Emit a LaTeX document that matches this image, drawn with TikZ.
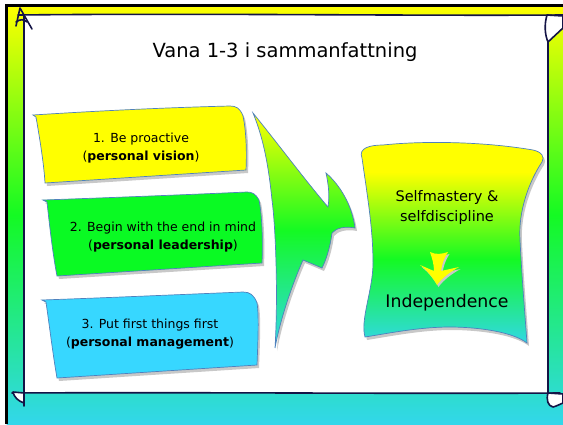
\documentclass[tikz,border=0pt]{standalone}
\usepackage{fontspec}
\setmainfont{DejaVu Sans}
\usetikzlibrary{calc}
\definecolor{bgyellow}{RGB}{255,255,0}
\definecolor{bggreen}{RGB}{20,250,35}
\definecolor{bgcyan}{RGB}{50,215,235}
\definecolor{frameline}{RGB}{20,20,70}
\definecolor{boxline}{RGB}{79,129,189}
\definecolor{boxyellow}{RGB}{255,255,0}
\definecolor{boxgreen}{RGB}{10,250,35}
\definecolor{boxblue}{RGB}{55,215,255}
\definecolor{shadowgray}{RGB}{200,200,200}
\tikzset{
  frame/.style={draw=frameline,line width=1.6pt,line cap=round,line join=round},
  curl/.style={frame,fill=white},
  habitbox/.style={draw=boxline,line width=0.7pt},
  shadowpath/.style={fill=shadowgray,draw=none},
  boxtext/.style={align=center,font=\fontsize{12.5}{18}\selectfont},
  tricolor/.style={top color=bgyellow,bottom color=bgcyan,middle color=bggreen},
}
\begin{document}
\begin{tikzpicture}[x=1pt,y=-1pt]
\useasboundingbox (0,0) rectangle (563,424);
\fill[white] (0,0) rectangle (563,424);
% slide background
\shade[tricolor] (6.5,5.5) rectangle (563,424);
\draw[line width=3pt] (6.5,424) -- (6.5,5.5) -- (563,5.5);
% scroll panel
\fill[white] (24,15) rectangle (548,393);
\draw[frame] (24,406) -- (24,15);
\draw[frame] (18,15) .. controls (200,13) and (400,16) .. (563,15);
\draw[frame] (548,15) -- (548,393);
\draw[frame] (12,393) .. controls (200,392) and (400,394) .. (560,393);
% corner curls
\draw[frame] (16,26) -- (20,8) -- (32,29);
\draw[frame] (16,22) .. controls (20,19) and (24,19) .. (27,22);
\draw[curl] (547,15) .. controls (544,25) and (545,35) .. (548,42) -- (563,28) -- (563,16) -- cycle;
\draw[curl] (13,392) .. controls (14,397) and (18,401) .. (24,403) -- (24,393) -- cycle;
\draw[curl] (548,393) .. controls (546,400) and (548,406) .. (553,407) .. controls (557,406) and (560,404) .. (563,403) -- (563,394) -- cycle;
% title
\node[font=\fontsize{19.5}{23}\selectfont] (title) at (285,52) {Vana 1-3 i sammanfattning};
% yellow box
\def\ybox{(33,115) -- (36,117) .. controls (40,140) and (44,165) .. (45,183) -- (246,170) .. controls (247,150) and (246,130) .. (243,116) .. controls (240,108) and (236,106) .. (230,106) .. controls (150,108) and (80,112) .. (33,115) -- cycle}
\fill[shadowpath,shift={(2,3)}] \ybox;
\filldraw[habitbox,fill=boxyellow] \ybox;
\node[boxtext] (habit1) at (141,148) {1. Be proactive\\(\textbf{personal vision})};
% green box
\def\gbox{(43,200) -- (47,202) .. controls (50,230) and (53,255) .. (57,276) -- (262,263) .. controls (263,240) and (262,215) .. (259,200) .. controls (256,194) and (252,192) .. (247,192) .. controls (180,195) and (100,198) .. (43,200) -- cycle}
\fill[shadowpath,shift={(2,3)}] \gbox;
\filldraw[habitbox,fill=boxgreen] \gbox;
\node[boxtext] (habit2) at (163,237) {2. Begin with the end in mind\\(\textbf{personal leadership})};
% blue box
\def\bbox{(42,300) -- (46,302) .. controls (50,330) and (53,355) .. (57,378) -- (257,365) .. controls (258,340) and (259,315) .. (257,303) .. controls (254,295) and (250,292) .. (243,292) .. controls (170,295) and (100,298) .. (42,300) -- cycle}
\fill[shadowpath,shift={(2,3)}] \bbox;
\filldraw[habitbox,fill=boxblue] \bbox;
\node[boxtext] (habit3) at (150,334) {3. Put first things first\\(\textbf{personal management})};
% big flame arrow
\def\farrow{(253,113) .. controls (275,140) and (305,180) .. (328,207)
 .. controls (330,195) and (328,182) .. (326,173)
 .. controls (340,185) and (352,205) .. (355,228)
 .. controls (345,226) and (336,228) .. (332,233)
 .. controls (330,248) and (326,260) .. (322,268)
 .. controls (315,265) and (308,262) .. (303,260)
 .. controls (292,285) and (280,320) .. (275,348)
 .. controls (278,300) and (276,230) .. (272,200)
 .. controls (268,160) and (262,135) .. (253,113) -- cycle}
\fill[shadowpath,shift={(2,3)}] \farrow;
\shade[tricolor] \farrow;
\draw[habitbox] \farrow;
% right box
\def\rbox{(362,158) .. controls (358,148) and (370,145) .. (383,145) .. controls (420,141) and (480,141) .. (533,150) .. controls (542,152) and (545,157) .. (542,162) .. controls (530,180) and (518,210) .. (520,240) .. controls (522,280) and (525,315) .. (527,343) .. controls (510,330) and (470,327) .. (450,327) .. controls (420,327) and (390,333) .. (365,337) .. controls (360,320) and (373,290) .. (373,263) .. controls (373,230) and (368,200) .. (362,158) -- cycle}
\fill[shadowpath,shift={(2,3)}] \rbox;
\begin{scope}
\clip \rbox;
\fill[bgyellow] (355,138) rectangle (550,173);
\shade[tricolor] (355,172) rectangle (550,346);
\end{scope}
\draw[habitbox] \rbox;
\node[align=center,font=\fontsize{14.5}{20}\selectfont] (mastery) at (447,207) {Selfmastery \&\\selfdiscipline};
% small yellow arrow
\def\sarrow{(430,252) .. controls (436,255) and (442,254) .. (448,252) .. controls (444,258) and (442,264) .. (441,271) -- (459,267) .. controls (450,272) and (442,278) .. (437,285) .. controls (433,278) and (427,270) .. (420,265) -- (434,271) .. controls (434,264) and (432,258) .. (430,252) -- cycle}
\fill[shadowpath,shift={(1.5,2)}] \sarrow;
\fill[boxyellow] \sarrow;
\node[font=\fontsize{17.3}{20}\selectfont] (indep) at (447,303) {Independence};
\end{tikzpicture}
\end{document}
